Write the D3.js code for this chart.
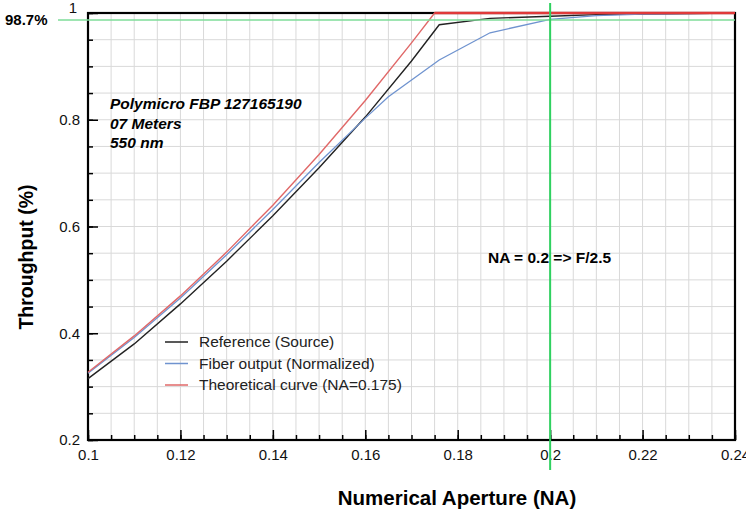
<!DOCTYPE html>
<html>
<head>
<meta charset="utf-8">
<script src="https://cdn.jsdelivr.net/npm/d3@7"></script>
<style>
    body { margin: 0; background: #fff; }
    svg { display: block; font-family: "Liberation Sans", Arial, sans-serif; }
</style>
</head>
<body>
<div id="chart"></div>
<script>
// Values
const refNA = [0.1, 0.11, 0.12, 0.13, 0.14, 0.15, 0.16, 0.17, 0.176, 0.187, 0.2, 0.21, 0.22, 0.24];
const refValues = [0.315, 0.38, 0.455, 0.535, 0.62, 0.71, 0.805, 0.91, 0.978, 0.99, 0.994, 0.997, 0.998, 1.0];

const fiberNA = [0.1, 0.11, 0.12, 0.13, 0.14, 0.15, 0.16, 0.165, 0.176, 0.187, 0.2, 0.21, 0.22, 0.24];
const fiberValues = [0.325, 0.392, 0.466, 0.547, 0.632, 0.72, 0.803, 0.843, 0.912, 0.963, 0.988, 0.995, 0.998, 1.0];

const theoryNA = [0.1, 0.11, 0.12, 0.13, 0.14, 0.15, 0.16, 0.17, 0.175, 0.18, 0.2, 0.22, 0.24];
const theoryValues = [0.327, 0.395, 0.47, 0.552, 0.64, 0.735, 0.836, 0.944, 1.0, 1.0, 1.0, 1.0, 1.0];

const xTicks = [0.1, 0.12, 0.14, 0.16, 0.18, 0.2, 0.22, 0.24];
const yTicks = [0.2, 0.4, 0.6, 0.8, 1];
const seriesNames = ["Reference (Source)", "Fiber output (Normalized)", "Theoretical curve (NA=0.175)"];
const seriesColors = ["#222222", "#6f93cf", "#e06868"];
const limitValue = 0.987;
const limitNA = 0.2;

const width = 746;
const height = 511;
const margin = { top: 13, right: 11, bottom: 71, left: 88 };

const svg = d3.select("#chart")
    .append("svg")
    .attr("width", width)
    .attr("height", height);

const x = d3.scaleLinear()
    .domain([0.1, 0.24])
    .range([margin.left, width - margin.right]);

const y = d3.scaleLinear()
    .domain([0.2, 1])
    .range([height - margin.bottom, margin.top]);

const xMinor = d3.range(0, 29).map(i => 0.1 + i * 0.005);
const yMinor = d3.range(0, 17).map(i => 0.2 + i * 0.05);

// grid
const grid = svg.append("g");
grid.selectAll("line.vx")
    .data(xMinor)
    .join("line")
    .attr("x1", d => x(d)).attr("x2", d => x(d))
    .attr("y1", y(1)).attr("y2", y(0.2))
    .attr("stroke", "#d9d9d9");
grid.selectAll("line.hy")
    .data(yMinor)
    .join("line")
    .attr("x1", x(0.1)).attr("x2", x(0.24))
    .attr("y1", d => y(d)).attr("y2", d => y(d))
    .attr("stroke", "#d9d9d9");

// axes, ticks pointing inside
const xAxis = svg.append("g")
    .attr("transform", `translate(0,${y(0.2)})`)
    .call(d3.axisBottom(x).tickValues(xTicks).tickSize(-10).tickPadding(9)
        .tickFormat(d => String(+d.toFixed(2))));
svg.append("g")
    .attr("transform", `translate(0,${y(0.2)})`)
    .call(d3.axisBottom(x).tickValues(xMinor).tickSize(-5).tickFormat(""));

const yAxis = svg.append("g")
    .attr("transform", `translate(${x(0.1)},0)`)
    .call(d3.axisLeft(y).tickValues(yTicks).tickSize(-10).tickPadding(8)
        .tickFormat(d => String(+d.toFixed(1))));
svg.append("g")
    .attr("transform", `translate(${x(0.1)},0)`)
    .call(d3.axisLeft(y).tickValues(yMinor).tickSize(-5).tickFormat(""));

svg.selectAll(".domain").remove();
svg.selectAll(".tick line").attr("stroke", "#000").attr("stroke-width", 1.5);
svg.selectAll(".tick text")
    .attr("font-family", "Liberation Sans, Arial, sans-serif")
    .attr("font-size", 15)
    .attr("fill", "#111");
yAxis.selectAll(".tick text").filter(d => d === 1)
    .attr("dy", "-0.05em").attr("x", -11);

// frame
svg.append("rect")
    .attr("x", x(0.1)).attr("y", y(1))
    .attr("width", x(0.24) - x(0.1))
    .attr("height", y(0.2) - y(1))
    .attr("fill", "none")
    .attr("stroke", "#000")
    .attr("stroke-width", 2.2);

// curves
const series = [
    { na: refNA, v: refValues },
    { na: fiberNA, v: fiberValues },
    { na: theoryNA, v: theoryValues }
];
const line = d3.line().x(d => x(d[0])).y(d => y(d[1]));

svg.append("g")
    .selectAll("path")
    .data(series)
    .join("path")
    .attr("d", s => line(s.na.map((n, i) => [n, s.v[i]])))
    .attr("fill", "none")
    .attr("stroke", (s, i) => seriesColors[i])
    .attr("stroke-width", (s, i) => i === 1 ? 1.3 : 1.4);

// red flat part sits on the top border
svg.append("line")
    .attr("x1", x(0.175)).attr("x2", x(0.24))
    .attr("y1", y(1)).attr("y2", y(1))
    .attr("stroke", "#e03a3a")
    .attr("stroke-width", 2.5);

// green markers
svg.append("line")
    .attr("x1", 58).attr("x2", x(0.24))
    .attr("y1", y(limitValue)).attr("y2", y(limitValue))
    .attr("stroke", "#7edc98")
    .attr("stroke-width", 1.5);
svg.append("line")
    .attr("x1", x(limitNA)).attr("x2", x(limitNA))
    .attr("y1", 3).attr("y2", 470)
    .attr("stroke", "#2fd160")
    .attr("stroke-width", 2);

svg.append("text")
    .attr("x", 5).attr("y", y(limitValue) + 5)
    .attr("font-size", 15).attr("font-weight", "bold")
    .text("98.7%");

svg.append("text")
    .attr("x", 488).attr("y", 263)
    .attr("font-size", 15.5).attr("font-weight", "bold")
    .text("NA = 0.2 => F/2.5");

// fiber notes
const notes = ["Polymicro FBP 127165190", "07 Meters", "550 nm"];
svg.append("g")
    .selectAll("text")
    .data(notes)
    .join("text")
    .attr("x", 110)
    .attr("y", (d, i) => 109 + i * 19.5)
    .attr("font-size", 15.5)
    .attr("font-weight", "bold")
    .attr("font-style", "italic")
    .text(d => d);

// legend
const legend = svg.append("g");
seriesNames.forEach((name, i) => {
    const ly = 342 + i * 21.5;
    legend.append("line")
        .attr("x1", 165).attr("x2", 188)
        .attr("y1", ly).attr("y2", ly)
        .attr("stroke", seriesColors[i])
        .attr("stroke-width", 1.5);
    legend.append("text")
        .attr("x", 199).attr("y", ly + 5)
        .attr("font-size", 15.5)
        .attr("fill", "#222")
        .text(name);
});

// axis titles
svg.append("text")
    .attr("x", 457).attr("y", 505)
    .attr("text-anchor", "middle")
    .attr("font-size", 20.5).attr("font-weight", "bold")
    .text("Numerical Aperture (NA)");

svg.append("text")
    .attr("transform", `translate(33,257) rotate(-90)`)
    .attr("text-anchor", "middle")
    .attr("font-size", 19.5).attr("font-weight", "bold")
    .text("Throughput (%)");
</script>
</body>
</html>
